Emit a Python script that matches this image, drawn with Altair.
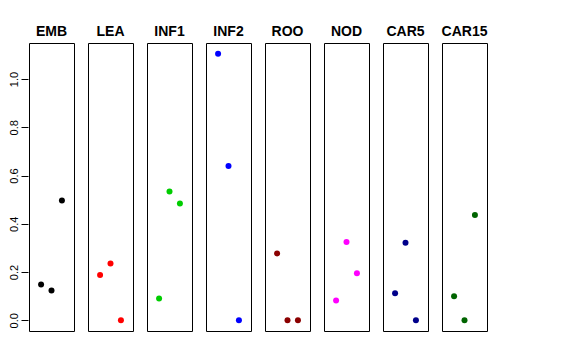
import altair as alt
import pandas as pd

panels = ["EMB", "LEA", "INF1", "INF2", "ROO", "NOD", "CAR5", "CAR15"]
colors = ["#000000", "#FF0000", "#00CD00", "#0000FF", "#8B0000", "#FF00FF", "#00008B", "#006400"]
positions = [1, 2, 3]
emb = [0.148, 0.124, 0.497]
lea = [0.188, 0.235, 0.0]
inf1 = [0.090, 0.534, 0.484]
inf2 = [1.105, 0.640, 0.0]
roo = [0.277, 0.0, 0.0]
nod = [0.082, 0.325, 0.195]
car5 = [0.112, 0.321, 0.0]
car15 = [0.100, 0.0, 0.436]
y_ticks = [0.0, 0.2, 0.4, 0.6, 0.8, 1.0]

series = [emb, lea, inf1, inf2, roo, nod, car5, car15]
rows = []
for name, vals in zip(panels, series):
    for p, v in zip(positions, vals):
        rows.append({"panel": name, "pos": p, "value": v})
df = pd.DataFrame(rows)

base = alt.Chart(df).mark_point(filled=True, size=36, opacity=1).encode(
    x=alt.X("pos:Q", axis=None, scale=alt.Scale(domain=[-0.16, 4.16], nice=False, zero=False)),
    y=alt.Y("value:Q", title=None,
            scale=alt.Scale(domain=[-0.0442, 1.1492], nice=False, zero=False),
            axis=alt.Axis(values=y_ticks, format=".1f", labelAngle=270, labelAlign="center",
                          labelBaseline="bottom", tickSize=7, labelPadding=2, domain=False,
                          grid=False, labelFont="Liberation Sans", labelFontSize=11,
                          labelColor="black", tickColor="black")),
    color=alt.Color("panel:N", scale=alt.Scale(domain=panels, range=colors), legend=None),
).properties(width=45, height=288)

chart = base.facet(
    column=alt.Column("panel:N", sort=panels, title=None,
                      header=alt.Header(labelFontSize=14, labelFontWeight="bold",
                                        labelFont="Liberation Sans", labelColor="black",
                                        labelPadding=3)),
).configure_facet(spacing=12).configure_view(stroke="black", strokeWidth=1).properties(
    padding={"left": 0, "top": 17, "right": 5, "bottom": 5}
)

chart.save("out.html", embed_options={"renderer": "svg", "actions": False})
